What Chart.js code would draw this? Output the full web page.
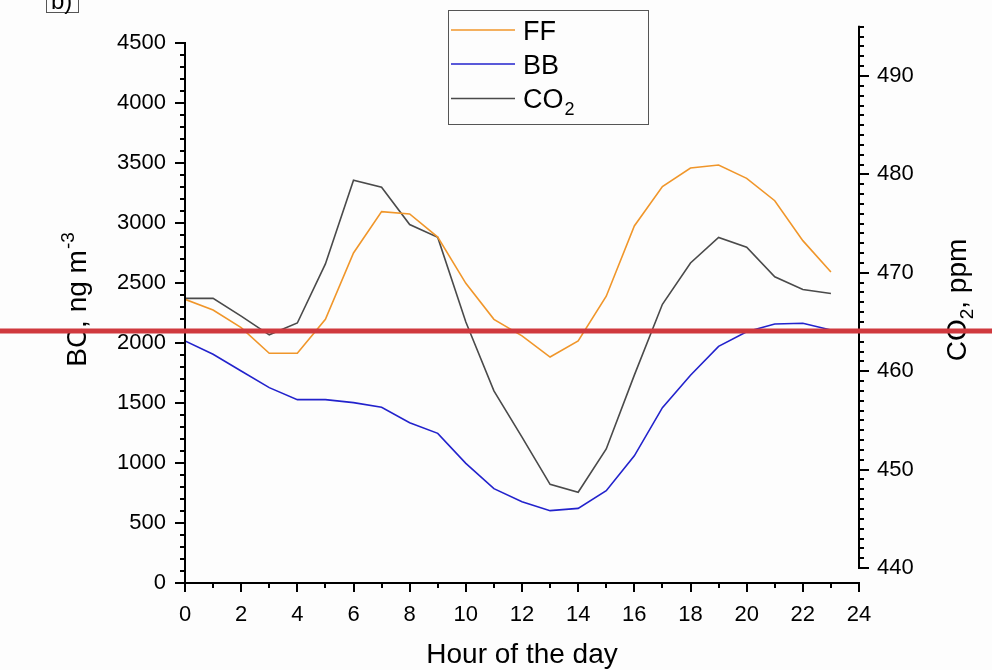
<!DOCTYPE html>
<html>
<head>
<meta charset="utf-8">
<script src="https://cdn.jsdelivr.net/npm/chart.js@4/dist/chart.umd.min.js"></script>
<style>
html,body{margin:0;padding:0;background:#fdfdfd;}
canvas{display:block;}
</style>
</head>
<body>
<canvas id="c" width="992" height="670"></canvas>
<script>
// ---- data ----
const hours = [0,1,2,3,4,5,6,7,8,9,10,11,12,13,14,15,16,17,18,19,20,21,22,23];
const ffValues = [2364,2275,2128,1914,1914,2197,2750,3095,3075,2883,2497,2197,2060,1883,2017,2390,2975,3303,3458,3483,3372,3186,2853,2592];
const bbValues = [2017,1906,1767,1628,1528,1528,1503,1464,1336,1247,997,786,678,603,622,769,1060,1461,1731,1972,2094,2158,2164,2108];
const co2Values = [467.4,467.4,465.6,463.7,464.9,470.9,479.4,478.7,474.9,473.6,465.0,458.0,453.3,448.5,447.7,452.1,459.6,466.8,471.0,473.6,472.6,469.6,468.3,467.9];
const seriesNames = ['FF','BB','CO2'];
const xTicks = [0,2,4,6,8,10,12,14,16,18,20,22,24];
const leftTicks = [0,500,1000,1500,2000,2500,3000,3500,4000,4500];
const rightTicks = [440,450,460,470,480,490];
const redLineValue = 2100;

const FONT = "'Liberation Sans', Arial, sans-serif";
const colors = {FF:'#f0962a', BB:'#2222cc', CO2:'#4a4a4a'};

function setTicks(list){ return function(scale){ scale.ticks = list.map(v => ({value:v})); }; }
function fitY(w){ return function(s){ s.width = w; s.paddingTop = 0; s.paddingBottom = 0; }; }

const decor = {
  id:'decor',
  beforeDraw(chart){
    const ctx = chart.ctx;
    ctx.save(); ctx.fillStyle='#fdfdfd'; ctx.fillRect(0,0,chart.width,chart.height); ctx.restore();
  },
  afterDraw(chart){
    const ctx = chart.ctx;
    const xs = chart.scales.x, ys = chart.scales.y, yr = chart.scales.y1;
    const a = chart.chartArea;
    ctx.save();
    ctx.strokeStyle = '#000'; ctx.lineWidth = 2; ctx.lineCap='butt';
    function ln(x1,y1,x2,y2){ ctx.beginPath(); ctx.moveTo(x1,y1); ctx.lineTo(x2,y2); ctx.stroke(); }
    // left axis
    const L = Math.round(a.left), B = Math.round(a.bottom), R = Math.round(a.right);
    const lTop = ys.getPixelForValue(leftTicks[leftTicks.length-1]);
    ln(L, B+1, L, lTop-1);
    for (let i=0;i<leftTicks.length;i++){
      const v = leftTicks[i];
      const p = Math.round(ys.getPixelForValue(v));
      ln(L-10, p, L, p);
      if (i<leftTicks.length-1){
        const step = (leftTicks[i+1]-v)/5;
        for (let k=1;k<5;k++){ const q = Math.round(ys.getPixelForValue(v+k*step)); ln(L-5,q,L,q); }
      }
    }
    // bottom axis
    ln(L-1, B, R+1, B);
    for (let i=0;i<xTicks.length;i++){
      const v = xTicks[i];
      const p = Math.round(xs.getPixelForValue(v));
      ln(p, B, p, B+9);
      if (i<xTicks.length-1){
        const q = Math.round(xs.getPixelForValue((v+xTicks[i+1])/2)); ln(q,B,q,B+5);
      }
    }
    // right axis
    const rMax = Math.floor(yr.max);
    const rBot = yr.getPixelForValue(rightTicks[0]);
    const rTop = yr.getPixelForValue(rMax);
    ln(R, rBot+1, R, rTop-1);
    for (let v=rightTicks[0]; v<=rMax; v+=1){
      const p = Math.round(yr.getPixelForValue(v));
      ln(R, p, R+(v%10===0?10:5), p);
    }
    // axis titles
    ctx.fillStyle='#000';
    ctx.textBaseline='alphabetic';
    // left title
    ctx.save();
    ctx.translate(86, 300); ctx.rotate(-Math.PI/2);
    ctx.font = '28px '+FONT;
    const t1 = 'BC, ng m', w1 = ctx.measureText(t1).width;
    ctx.font = '19px '+FONT; const s1='-3', ws1 = ctx.measureText(s1).width;
    let x0 = -(w1+ws1)/2;
    ctx.font = '28px '+FONT; ctx.textAlign='left'; ctx.fillText(t1, x0, 0);
    ctx.font = '19px '+FONT; ctx.fillText(s1, x0+w1+1, -12);
    ctx.restore();
    // right title
    ctx.save();
    ctx.translate(966, 300); ctx.rotate(-Math.PI/2);
    ctx.font = '28px '+FONT;
    const a1='CO', a2=', ppm';
    const wa1 = ctx.measureText(a1).width, wa2 = ctx.measureText(a2).width;
    ctx.font = '19px '+FONT; const wsub = ctx.measureText('2').width;
    x0 = -(wa1+wsub+wa2)/2;
    ctx.font = '28px '+FONT; ctx.textAlign='left'; ctx.fillText(a1, x0, 0);
    ctx.font = '19px '+FONT; ctx.fillText('2', x0+wa1, 7);
    ctx.font = '28px '+FONT; ctx.fillText(a2, x0+wa1+wsub, 0);
    ctx.restore();
    // bottom title
    ctx.font = '28px '+FONT; ctx.textAlign='center';
    ctx.fillText('Hour of the day', (a.left+a.right)/2, 663);
    // legend
    ctx.lineWidth = 1; ctx.strokeStyle='#555';
    ctx.strokeRect(448.5, 10.5, 200, 114);
    const rows = [30, 64, 98.5];
    seriesNames.forEach((nm,i)=>{
      ctx.strokeStyle = colors[nm]; ctx.lineWidth = 1.5;
      ln(451, rows[i], 515, rows[i]);
      ctx.fillStyle='#000'; ctx.textAlign='left';
      ctx.font = '27px '+FONT;
      if (nm==='CO2'){
        ctx.fillText('CO', 523, rows[i]+9.5);
        const w = ctx.measureText('CO').width;
        ctx.font = '18px '+FONT; ctx.fillText('2', 523+w+1, rows[i]+16.5);
      } else {
        ctx.fillText(nm, 523, rows[i]+9.5);
      }
    });
    // b) box
    ctx.strokeStyle='#555'; ctx.lineWidth=1;
    ctx.strokeRect(46.5, -20, 32, 32.5);
    ctx.fillStyle='#000'; ctx.font='24px '+FONT; ctx.textAlign='left';
    ctx.fillText('b)', 51, 9);
    // red line
    const ry = ys.getPixelForValue(redLineValue);
    ctx.fillStyle='#d0393e';
    ctx.fillRect(0, ry-2.5, chart.width, 5);
    ctx.restore();
  }
};

const tickFont = {family: FONT, size: 22};
const plain = v => String(v);
new Chart(document.getElementById('c'), {
  type:'line',
  data:{
    datasets:[
      {label:seriesNames[0], data:hours.map((h,i)=>({x:h,y:ffValues[i]})), borderColor:colors.FF, borderWidth:1.6, pointRadius:0, yAxisID:'y', tension:0},
      {label:seriesNames[1], data:hours.map((h,i)=>({x:h,y:bbValues[i]})), borderColor:colors.BB, borderWidth:1.6, pointRadius:0, yAxisID:'y', tension:0},
      {label:seriesNames[2], data:hours.map((h,i)=>({x:h,y:co2Values[i]})), borderColor:colors.CO2, borderWidth:1.6, pointRadius:0, yAxisID:'y1', tension:0}
    ]
  },
  options:{
    responsive:false, animation:false, devicePixelRatio:1,
    layout:{padding:{top:26,left:0,right:0,bottom:0}},
    plugins:{legend:{display:false}, tooltip:{enabled:false}},
    scales:{
      x:{type:'linear', position:'bottom', min:0, max:24,
         afterBuildTicks:setTicks(xTicks),
         afterFit:s=>{s.height=87;},
         grid:{display:false, drawTicks:false}, border:{display:false},
         ticks:{font:tickFont, color:'#000', padding:19, maxRotation:0, autoSkip:false, callback:plain}},
      y:{type:'linear', position:'left', min:0, max:4641.7,
         afterBuildTicks:setTicks(leftTicks),
         afterFit:fitY(185),
         grid:{display:false, drawTicks:false}, border:{display:false},
         ticks:{font:tickFont, color:'#000', padding:19, callback:plain}},
      y1:{type:'linear', position:'right', min:438.48, max:495.08,
         afterBuildTicks:setTicks(rightTicks),
         afterFit:fitY(133),
         grid:{display:false, drawTicks:false}, border:{display:false},
         ticks:{font:tickFont, color:'#000', padding:18, callback:plain}}
    }
  },
  plugins:[decor]
});
</script>
</body>
</html>
